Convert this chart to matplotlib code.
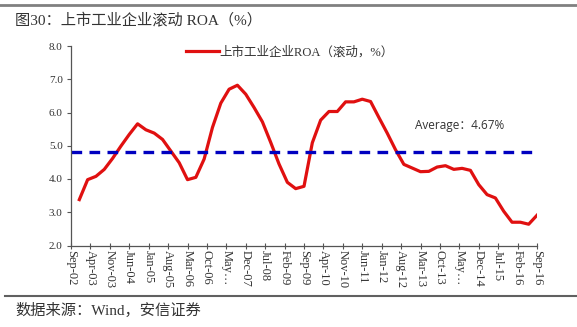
import matplotlib.pyplot as plt
from matplotlib.lines import Line2D

plt.rcParams['font.family'] = ['Liberation Serif', 'Noto Sans CJK SC', 'DejaVu Sans']

# quarterly rolling ROA (%), Dec-02 .. Sep-16
months = list(range(3, 169, 3))
roa = [3.38, 3.98, 4.08, 4.29, 4.62, 4.99, 5.34, 5.66, 5.48, 5.38,
       5.19, 4.84, 4.49, 3.98, 4.05, 4.60, 5.55, 6.28, 6.70, 6.82,
       6.55, 6.15, 5.72, 5.10, 4.45, 3.90, 3.71, 3.78, 5.09, 5.77,
       6.03, 6.03, 6.32, 6.32, 6.40, 6.33, 5.85, 5.38, 4.88, 4.44,
       4.33, 4.22, 4.23, 4.36, 4.40, 4.29, 4.32, 4.26, 3.83, 3.53,
       3.43, 3.03, 2.70, 2.70, 2.64, 2.91]
avg_level = 4.81
avg_text = 'Average：4.67%'

tick_labels = ['Sep-02', 'Apr-03', 'Nov-03', 'Jun-04', 'Jan-05', 'Aug-05', 'Mar-06',
               'Oct-06', 'May…', 'Dec-07', 'Jul-08', 'Feb-09', 'Sep-09', 'Apr-10',
               'Nov-10', 'Jun-11', 'Jan-12', 'Aug-12', 'Mar-13', 'Oct-13', 'May…',
               'Dec-14', 'Jul-15', 'Feb-16', 'Sep-16']
tick_pos = list(range(0, 169, 7))

W, H = 577, 327
fig = plt.figure(figsize=(W / 100, H / 100), dpi=100)
ax = fig.add_axes([71 / W, 1 - 245.5 / H, (537 - 71) / W, (245.5 - 46) / H])

ax.plot(months, roa, color='#e01010', lw=2.3, solid_joinstyle='round')
ax.axhline(avg_level, color='#0000c0', lw=2.4, dashes=(3.2, 2.2))

ax.set_xlim(0, 168)
ax.set_ylim(2, 8)
ax.set_yticks([2, 3, 4, 5, 6, 7, 8])
ax.set_yticklabels(['%.1f' % v for v in [2, 3, 4, 5, 6, 7, 8]], fontsize=8, color='#333333')
ax.set_xticks(tick_pos)
ax.set_xticklabels(tick_labels, rotation=270, fontsize=9, color='#333333')
ax.tick_params(axis='x', direction='inout', length=5, width=0.8, color='#555555', pad=1)
ax.tick_params(axis='y', direction='out', length=3, width=0.8, color='#555555', pad=3)
for s in ['top', 'right']:
    ax.spines[s].set_visible(False)
for s in ['left', 'bottom']:
    ax.spines[s].set_color('#555555')
    ax.spines[s].set_linewidth(0.9)

ax.text(415 / W, 1 - 126 / H, avg_text, transform=fig.transFigure, fontsize=8.5,
        family=['Open Sans', 'Noto Sans CJK SC'], color='#333333', va='center')

handle = Line2D([], [], color='#e01010', lw=2.3)
fig.legend([handle], ['上市工业企业ROA（滚动，%）'], loc='center',
           bbox_to_anchor=(290 / W, 1 - 52 / H), frameon=False, fontsize=9,
           handlelength=2.6, handletextpad=0.1, labelcolor='#333333')

# title, source and rules
fig.text(15 / W, 1 - 20 / H, '图30：上市工业企业滚动 ROA（%）', fontsize=11,
         color='#333333', va='center')
fig.text(15 / W, 1 - 310 / H, '数据来源：Wind，安信证券', fontsize=11,
         color='#333333', va='center')
fig.add_artist(Line2D([0, 1], [1 - 4.5 / H] * 2, color='#808080', lw=2))
fig.add_artist(Line2D([5 / W, 1], [1 - 296 / H] * 2, color='#606060', lw=1.5))

fig.savefig('out.png', dpi=100)
